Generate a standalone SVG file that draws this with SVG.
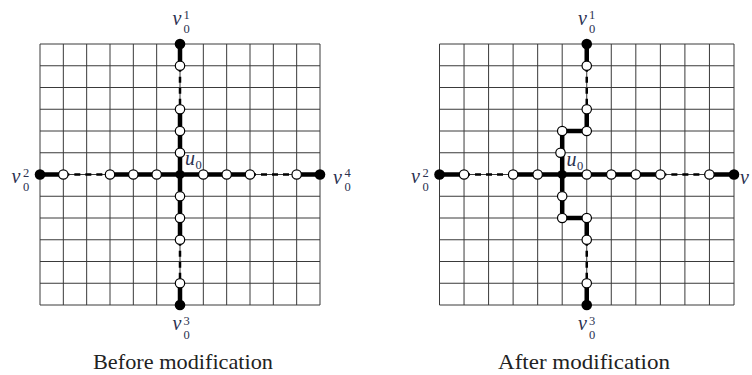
<svg xmlns="http://www.w3.org/2000/svg" width="752" height="375" viewBox="0 0 752 375">
<style>
.grid{fill:none;stroke:#3a3a3a;stroke-width:1}
.thick{fill:none;stroke:#000;stroke-width:4.5;stroke-linejoin:miter;stroke-linecap:butt}
.dash{fill:none;stroke:#000;stroke-width:2.5;stroke-dasharray:6,5}
.open{fill:#fff;stroke:#000;stroke-width:1.2}
.black{fill:#000}
.lbl{font-family:'Liberation Serif','DejaVu Serif',serif;font-style:italic;font-size:20px;fill:#2b3150}
.idx{font-family:'Liberation Serif','DejaVu Serif',serif;font-style:normal;font-size:12.5px;fill:#2b3150}
.cap{font-family:'Liberation Serif','DejaVu Serif',serif;font-size:22px;fill:#222}
</style>
<rect width="752" height="375" fill="#fff"/>

<!-- Left panel grid -->
<g id="left-grid">
<path class="grid" d="M40,44V305M63.33,44V305M86.67,44V305M110,44V305M133.33,44V305M156.67,44V305M180,44V305M203.33,44V305M226.67,44V305M250,44V305M273.33,44V305M296.67,44V305M320,44V305
M40,44H320M40,65.75H320M40,87.5H320M40,109.25H320M40,131H320M40,152.75H320M40,174.5H320M40,196.25H320M40,218H320M40,239.75H320M40,261.5H320M40,283.25H320M40,305H320"/>
</g>

<!-- Right panel grid -->
<g id="right-grid">
<path class="grid" d="M439.5,44V305M464.04,44V305M488.58,44V305M513.12,44V305M537.66,44V305M562.2,44V305M586.74,44V305M611.28,44V305M635.82,44V305M660.36,44V305M684.9,44V305M709.44,44V305M734,44V305
M439.5,44H734M439.5,65.75H734M439.5,87.5H734M439.5,109.25H734M439.5,131H734M439.5,152.75H734M439.5,174.5H734M439.5,196.25H734M439.5,218H734M439.5,239.75H734M439.5,261.5H734M439.5,283.25H734M439.5,305H734"/>
</g>

<!-- Connectors -->
<g id="connectors">
<!-- left -->
<path class="thick" d="M180,44V65.75M180,109.25V239.75M180,283.25V305M40,174.5H63.33M110,174.5H250M296.67,174.5H320"/>
<path class="dash" d="M180,65.75V109.25M180,239.75V283.25M63.33,174.5H110M250,174.5H296.67"/>
<!-- right -->
<path class="thick" d="M586.74,44V65.75M586.74,109.25V131H562.2V218H586.74V239.75M586.74,283.25V305M439.5,174.5H464.04M513.12,174.5H660.36M709.44,174.5H734"/>
<path class="dash" d="M586.74,65.75V109.25M586.74,239.75V283.25M464.04,174.5H513.12M660.36,174.5H709.44"/>
</g>

<!-- Left nodes -->
<g id="L-v01"><circle class="black" cx="180" cy="44" r="5.3"/></g>
<g id="L-v03"><circle class="black" cx="180" cy="305" r="5.3"/></g>
<g id="L-v02"><circle class="black" cx="40" cy="174.5" r="5.3"/></g>
<g id="L-v04"><circle class="black" cx="320" cy="174.5" r="5.3"/></g>
<g id="L-u0"><circle class="black" cx="180" cy="174.5" r="4.6"/></g>
<g id="L-n1"><circle class="open" cx="180" cy="65.75" r="4.7"/></g>
<g id="L-n2"><circle class="open" cx="180" cy="109.25" r="4.7"/></g>
<g id="L-n3"><circle class="open" cx="180" cy="131" r="4.7"/></g>
<g id="L-n4"><circle class="open" cx="180" cy="152.75" r="4.7"/></g>
<g id="L-n5"><circle class="open" cx="180" cy="196.25" r="4.7"/></g>
<g id="L-n6"><circle class="open" cx="180" cy="218" r="4.7"/></g>
<g id="L-n7"><circle class="open" cx="180" cy="239.75" r="4.7"/></g>
<g id="L-n8"><circle class="open" cx="180" cy="283.25" r="4.7"/></g>
<g id="L-n9"><circle class="open" cx="63.33" cy="174.5" r="4.7"/></g>
<g id="L-n10"><circle class="open" cx="110" cy="174.5" r="4.7"/></g>
<g id="L-n11"><circle class="open" cx="133.33" cy="174.5" r="4.7"/></g>
<g id="L-n12"><circle class="open" cx="156.67" cy="174.5" r="4.7"/></g>
<g id="L-n13"><circle class="open" cx="203.33" cy="174.5" r="4.7"/></g>
<g id="L-n14"><circle class="open" cx="226.67" cy="174.5" r="4.7"/></g>
<g id="L-n15"><circle class="open" cx="250" cy="174.5" r="4.7"/></g>
<g id="L-n16"><circle class="open" cx="296.67" cy="174.5" r="4.7"/></g>

<!-- Right nodes -->
<g id="R-v01"><circle class="black" cx="586.74" cy="44" r="5.3"/></g>
<g id="R-v03"><circle class="black" cx="586.74" cy="305" r="5.3"/></g>
<g id="R-v02"><circle class="black" cx="439.5" cy="174.5" r="5.3"/></g>
<g id="R-v04"><circle class="black" cx="734" cy="174.5" r="5.3"/></g>
<g id="R-u0"><circle class="black" cx="562.2" cy="174.5" r="4.6"/></g>
<g id="R-n1"><circle class="open" cx="586.74" cy="65.75" r="4.7"/></g>
<g id="R-n2"><circle class="open" cx="586.74" cy="109.25" r="4.7"/></g>
<g id="R-n3"><circle class="open" cx="586.74" cy="131" r="4.7"/></g>
<g id="R-n4"><circle class="open" cx="562.2" cy="131" r="4.7"/></g>
<g id="R-n5"><circle class="open" cx="560.5" cy="152.75" r="4.7"/></g>
<g id="R-n6"><circle class="open" cx="562.2" cy="196.25" r="4.7"/></g>
<g id="R-n7"><circle class="open" cx="562.2" cy="218" r="4.7"/></g>
<g id="R-n8"><circle class="open" cx="586.74" cy="218" r="4.7"/></g>
<g id="R-n9"><circle class="open" cx="586.74" cy="239.75" r="4.7"/></g>
<g id="R-n10"><circle class="open" cx="586.74" cy="283.25" r="4.7"/></g>
<g id="R-n11"><circle class="open" cx="464.04" cy="174.5" r="4.7"/></g>
<g id="R-n12"><circle class="open" cx="513.12" cy="174.5" r="4.7"/></g>
<g id="R-n13"><circle class="open" cx="537.66" cy="174.5" r="4.7"/></g>
<g id="R-n14"><circle class="open" cx="586.74" cy="174.5" r="4.7"/></g>
<g id="R-n15"><circle class="open" cx="611.28" cy="174.5" r="4.7"/></g>
<g id="R-n16"><circle class="open" cx="635.82" cy="174.5" r="4.7"/></g>
<g id="R-n17"><circle class="open" cx="660.36" cy="174.5" r="4.7"/></g>
<g id="R-n18"><circle class="open" cx="709.44" cy="174.5" r="4.7"/></g>

<!-- Labels -->
<g id="labels">
<text class="lbl" x="172.5" y="25">v</text><text class="idx" x="183.5" y="18.5">1</text><text class="idx" x="183.5" y="32.5">0</text>
<text class="lbl" x="172.5" y="330">v</text><text class="idx" x="183.5" y="324.5">3</text><text class="idx" x="183.5" y="338.5">0</text>
<text class="lbl" x="11.5" y="183">v</text><text class="idx" x="23" y="176.5">2</text><text class="idx" x="23" y="190.5">0</text>
<text class="lbl" x="333" y="184">v</text><text class="idx" x="344.5" y="176.5">4</text><text class="idx" x="344.5" y="190.5">0</text>
<text class="lbl" x="185" y="165">u</text><text class="idx" x="195.5" y="169">0</text>

<text class="lbl" x="578" y="25">v</text><text class="idx" x="589" y="18.5">1</text><text class="idx" x="589" y="32.5">0</text>
<text class="lbl" x="578" y="330">v</text><text class="idx" x="589" y="324.5">3</text><text class="idx" x="589" y="338.5">0</text>
<text class="lbl" x="411" y="183">v</text><text class="idx" x="422.5" y="176.5">2</text><text class="idx" x="422.5" y="190.5">0</text>
<text class="lbl" x="740" y="184">v</text>
<text class="lbl" x="566.5" y="166">u</text><text class="idx" x="577" y="170">0</text>

<text class="cap" x="183" y="369" text-anchor="middle" textLength="180" lengthAdjust="spacingAndGlyphs">Before modification</text>
<text class="cap" x="584" y="369" text-anchor="middle" textLength="172" lengthAdjust="spacingAndGlyphs">After modification</text>
</g>
</svg>
